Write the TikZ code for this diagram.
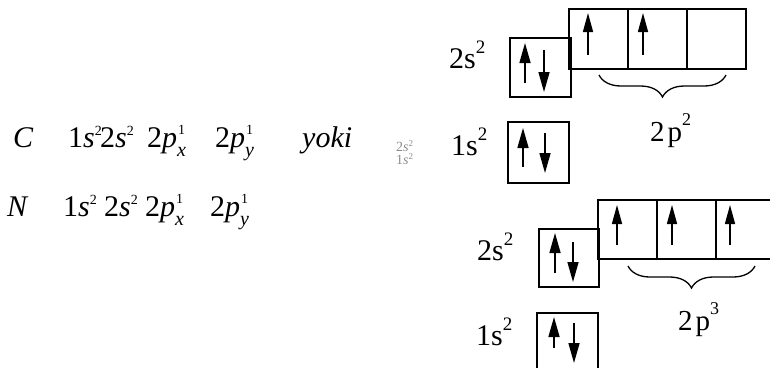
\documentclass[tikz,border=0pt]{standalone}
\usepackage{fontspec}
\setmainfont{Liberation Serif}
\usetikzlibrary{arrows.meta,calc,decorations.pathreplacing}
\newcommand\Lsup[1]{\raisebox{12pt}{\fontsize{14}{14}\selectfont #1}}
\newcommand\Lsub[1]{\raisebox{-9pt}{\fontsize{20}{20}\selectfont\itshape #1}}
\newcommand\Lpsup[1]{\raisebox{13pt}{\fontsize{14}{14}\selectfont #1}}
\newcommand\Lps[2]{\rlap{\hspace{1pt}\Lpsup{#1}}\Lsub{#2}}
\newcommand\Rsup[1]{\raisebox{15pt}{\fontsize{19}{19}\selectfont #1}}
\newcommand\Psup[1]{\raisebox{16pt}{\fontsize{18}{18}\selectfont #1}}
\newcommand\Gsup[1]{\raisebox{5pt}{\fontsize{9}{9}\selectfont #1}}
\begin{document}
\begin{tikzpicture}[x=1pt,y=-1pt,
  lt/.style={inner sep=0pt, anchor=base west, font=\fontsize{30}{32}\selectfont},
  rt/.style={inner sep=0pt, anchor=base west, font=\fontsize{30}{32}\selectfont},
  pt/.style={inner sep=0pt, anchor=base west, font=\fontsize{29}{31}\selectfont},
  gt/.style={inner sep=0pt, anchor=base west, text=black!45, font=\fontsize{14}{14}\selectfont},
  orb/.style={draw, line width=1.6pt, inner sep=0pt, outer sep=0pt},
  spin/.style={line width=1.5pt, -{Triangle[length=20pt,width=11pt]}},
  pspin/.style={line width=1.5pt, -{Triangle[length=19pt,width=10pt]}},
  brc/.style={line width=1.3pt, decorate, decoration={brace, mirror, amplitude=22pt}}]
\useasboundingbox (0,0) rectangle (770,367);
\clip (0,0) rectangle (770,367);

% left text, carbon
\node[lt] (cC) at (13,147) {\textit{C}};
\node[lt] (c1s) at (68,147) {1\textit{s}\Lsup{2}};
\node[lt] (c2s) at (100,147) {2\textit{s}\Lsup{2}};
\node[lt] (c2px) at (147,147) {2\textit{p}\Lps{1}{x}};
\node[lt] (c2py) at (215,147) {2\textit{p}\Lps{1}{y}};
\node[lt] (cyoki) at (302,147) {\textit{yoki}};
\node[gt] (g2s) at (396,151) {2\textit{s}\Gsup{2}};
\node[gt] (g1s) at (396,164) {1\textit{s}\Gsup{2}};

% left text, nitrogen
\node[lt] (nN) at (7,216) {\textit{N}};
\node[lt] (n1s) at (63,216) {1\textit{s}\Lsup{2}};
\node[lt] (n2s) at (104,216) {2\textit{s}\Lsup{2}};
\node[lt] (n2px) at (145,216) {2\textit{p}\Lps{1}{x}};
\node[lt] (n2py) at (210,216) {2\textit{p}\Lps{1}{y}};

% carbon orbital diagram
\node[orb, minimum width=61pt, minimum height=59pt] (t2s) at (540.5,67.5) {};
\node[orb, minimum width=59pt, minimum height=60pt] (tp1) at (598.5,39) {};
\node[orb, minimum width=59pt, minimum height=60pt] (tp2) at (657.5,39) {};
\node[orb, minimum width=59pt, minimum height=60pt] (tp3) at (716.5,39) {};
\node[orb, minimum width=61pt, minimum height=61pt] (t1s) at (538.5,152.5) {};
\node[rt] (lt2s) at (449,68) {2s\Rsup{2}};
\node[rt] (lt1s) at (451,155) {1s\Rsup{2}};
\node[pt] (lt2p) at (650,141) {2\hspace{3pt}p\Psup{2}};

\draw[spin] ($(t2s.south west)+(15,-14)$) -- ($(t2s.north west)+(15,5)$);
\draw[spin] ($(t2s.north west)+(34,12)$) -- ($(t2s.south west)+(34,-5)$);
\draw[spin] ($(t1s.south west)+(15,-16)$) -- ($(t1s.north west)+(15,6)$);
\draw[spin] ($(t1s.north west)+(37,11)$) -- ($(t1s.south west)+(37,-10)$);
\draw[pspin] ($(tp1.north west)+(19,46)$) -- ($(tp1.north west)+(19,4)$);
\draw[pspin] ($(tp2.north west)+(15,46)$) -- ($(tp2.north west)+(15,4)$);
\coordinate (tbA) at (599,75);
\coordinate (tbB) at (726,75);
\draw[brc] (tbA) -- (tbB);

% nitrogen orbital diagram
\node[orb, minimum width=60pt, minimum height=58pt] (b2s) at (569,258) {};
\node[orb, minimum width=59pt, minimum height=59pt] (bp1) at (627.5,229.5) {};
\node[orb, minimum width=59pt, minimum height=59pt] (bp2) at (686.5,229.5) {};
\node[orb, minimum width=59pt, minimum height=59pt] (bp3) at (745.5,229.5) {};
\node[orb, minimum width=61pt, minimum height=59pt] (b1s) at (567.5,342.5) {};
\node[rt] (lb2s) at (477,260) {2s\Rsup{2}};
\node[rt] (lb1s) at (476,345) {1s\Rsup{2}};
\node[pt] (lb2p) at (678,330) {2\hspace{3pt}p\Psup{3}};

\draw[spin] ($(b2s.south west)+(16,-14)$) -- ($(b2s.north west)+(16,4)$);
\draw[spin] ($(b2s.north west)+(34,13)$) -- ($(b2s.south west)+(34,-5)$);
\draw[spin] ($(b1s.north west)+(17,35)$) -- ($(b1s.north west)+(17,4)$);
\draw[spin] ($(b1s.north west)+(37,10)$) -- ($(b1s.north west)+(37,50)$);
\draw[pspin] ($(bp1.north west)+(19,45)$) -- ($(bp1.north west)+(19,5)$);
\draw[pspin] ($(bp2.north west)+(15,45)$) -- ($(bp2.north west)+(15,5)$);
\draw[pspin] ($(bp3.north west)+(14,45)$) -- ($(bp3.north west)+(14,5)$);
\coordinate (bbA) at (628,266);
\coordinate (bbB) at (755,266);
\draw[brc] (bbA) -- (bbB);
\end{tikzpicture}
\end{document}
